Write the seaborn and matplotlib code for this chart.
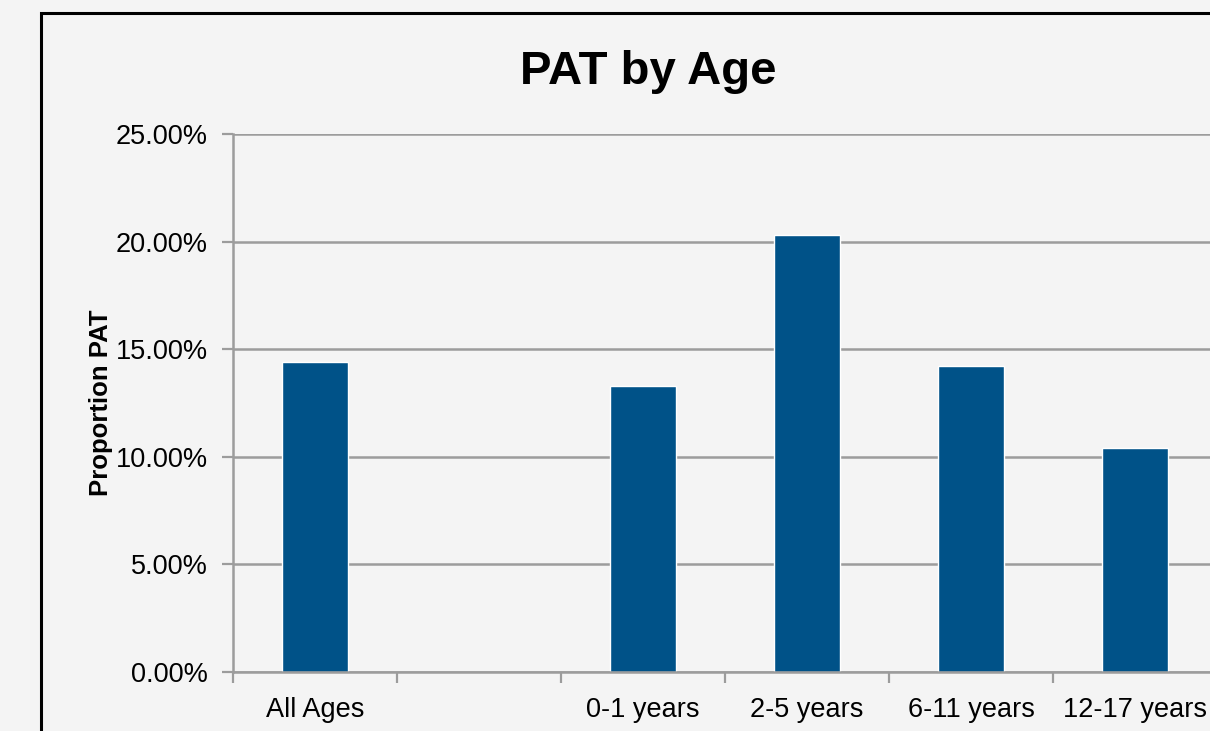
import matplotlib
matplotlib.use("Agg")
import matplotlib.pyplot as plt
import seaborn as sns
import pandas as pd
import numpy as np
from matplotlib.patches import Rectangle
from matplotlib.ticker import PercentFormatter, FixedLocator

categories = ["All Ages", " ", "0-1 years", "2-5 years", "6-11 years", "12-17 years"]
values = [14.4, np.nan, 13.3, 20.3, 14.2, 10.4]
y_ticks = [0, 5, 10, 15, 20, 25]

df = pd.DataFrame({"Age": categories, "PAT": values})

sns.set_theme(style="white")
plt.rcParams['font.family'] = ['Liberation Sans', 'DejaVu Sans']

bg = "#f4f4f4"
grid_c = "#9c9c9c"
fig = plt.figure(figsize=(12.1, 7.31), dpi=100, facecolor=bg)
ax = fig.add_axes([233/1210, 59/731, (1217-233)/1210, (672-134)/731])
ax.set_facecolor(bg)

sns.barplot(data=df.dropna(), x="Age", y="PAT", order=categories, color="#005288",
            saturation=1, width=0.4, ax=ax, zorder=3)

ax.set_xlim(-0.5, len(categories) - 0.5)
ax.set_ylim(0, 25)
ax.yaxis.set_major_locator(FixedLocator(y_ticks))
ax.yaxis.set_major_formatter(PercentFormatter(decimals=2))
ax.grid(axis="y", color=grid_c, linewidth=1.8, zorder=0)
ax.set_axisbelow(True)

for s in ["top", "right"]:
    ax.spines[s].set_visible(False)
for s in ["left", "bottom"]:
    ax.spines[s].set_color(grid_c)
    ax.spines[s].set_linewidth(1.8)
    ax.spines[s].set_zorder(4)

ax.tick_params(axis="y", which="major", length=8, width=1.6, color=grid_c,
               labelsize=19.5, pad=10, left=True, labelcolor="black")
ax.set_xticks(range(len(categories)))
ax.set_xticklabels(categories)
ax.tick_params(axis="x", which="major", length=0, labelsize=19.5, pad=18, labelcolor="black")
ax.set_xticks(np.arange(-0.5, len(categories), 1.0), minor=True)
ax.tick_params(axis="x", which="minor", length=8, width=1.6, color=grid_c, bottom=True)

ax.set_xlabel("")
ax.set_ylabel("Proportion PAT", fontsize=18.5, fontweight="bold", labelpad=2, color="black")

fig.text(648/1210, 1 - 72/731, "PAT by Age", ha="center", va="center",
         fontsize=34, fontweight="bold", color="black")

frame = Rectangle((41/1210, -0.1), 1.2, (731 - 13)/731 + 0.1, transform=fig.transFigure,
                  fill=False, edgecolor="black", linewidth=2.2, zorder=10)
fig.patches.append(frame)

fig.savefig("out.png", dpi=100, facecolor=bg)
